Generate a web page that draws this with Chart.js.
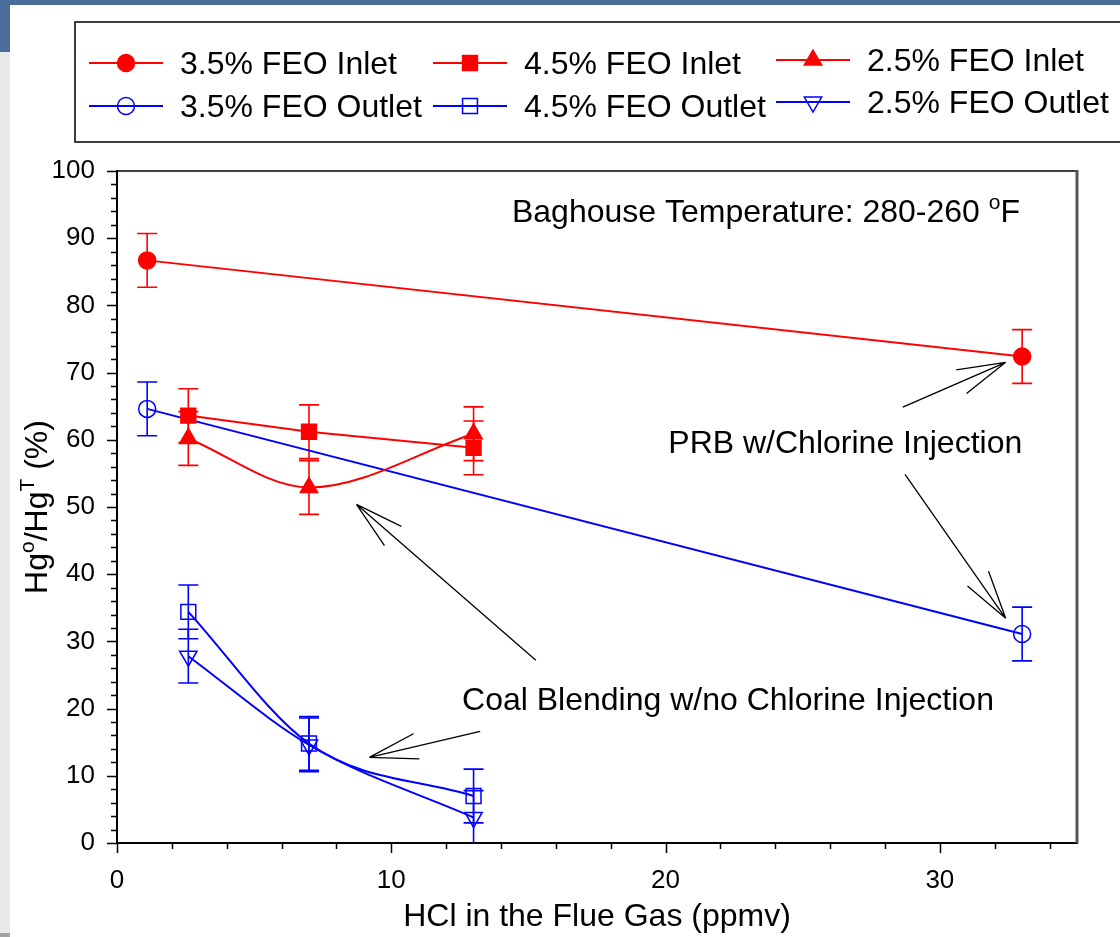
<!DOCTYPE html>
<html>
<head>
<meta charset="utf-8">
<script src="https://cdn.jsdelivr.net/npm/chart.js@4.4.0/dist/chart.umd.min.js"></script>
<style>
  html, body { margin: 0; padding: 0; background: #fff; }
  #quadro { position: relative; width: 1120px; height: 937px; overflow: hidden; background: #fff; }
  #faixaTopo { position: absolute; left: 0; top: 0; width: 1120px; height: 5px; background: #4b6d9b; }
  #faixaCanto { position: absolute; left: 0; top: 0; width: 10px; height: 52px; background: #4b6d9b; }
  #faixaEsq { position: absolute; left: 0; top: 52px; width: 10px; height: 881px; background: #e9e9e9; }
  #faixaBase { position: absolute; left: 0; top: 933px; width: 10px; height: 4px; background: #a3a3a3; }
  canvas { position: absolute; left: 0; top: 0; }
</style>
</head>
<body>
<div id="quadro">
  <div id="faixaTopo"></div>
  <div id="faixaCanto"></div>
  <div id="faixaEsq"></div>
  <div id="faixaBase"></div>
  <canvas id="graficoHg" width="1120" height="937"></canvas>
</div>
<script>
// dados
const hcl35 = [1.1, 33];
const inlet35 = [86.7, 72.4];
const outlet35 = [64.6, 31.1];
const erro35 = [4, 4];

const hcl45 = [2.6, 7, 13];
const inlet45 = [63.6, 61.2, 58.8];
const outlet45 = [34.4, 14.8, 7.0];
const erro45 = [4, 4, 4];

const hcl25 = [2.6, 7, 13];
const inlet25 = [60.2, 52.9, 60.9];
const outlet25 = [27.8, 14.6, 3.8];
const erro25 = [4, 4, 4];

const ticksX = [0, 10, 20, 30];
const ticksY = [0, 10, 20, 30, 40, 50, 60, 70, 80, 90, 100];

const FONTE = '"Liberation Sans", Arial, sans-serif';
const VERMELHO = '#ff0000';
const AZUL = '#0000ff';

const pontos = (xs, ys) => xs.map((x, i) => ({ x: x, y: ys[i] }));

function serie(label, xs, ys, erro, cor, estilo, cheio, curva, raio, rot) {
  return {
    label: label,
    data: pontos(xs, ys),
    erro: erro,
    borderColor: cor,
    backgroundColor: cheio ? cor : 'rgba(0,0,0,0)',
    pointBackgroundColor: cheio ? cor : 'rgba(0,0,0,0)',
    pointBorderColor: cor,
    pointBorderWidth: 1.5,
    pointStyle: estilo,
    pointRadius: raio,
    pointHoverRadius: raio,
    pointRotation: rot || 0,
    borderWidth: 2,
    tension: curva ? 0.4 : 0,
    cubicInterpolationMode: curva ? 'monotone' : 'default',
    showLine: true,
    fill: false
  };
}

const datasets = [
  serie('3.5% FEO Inlet', hcl35, inlet35, erro35, VERMELHO, 'circle', true, false, 8.5),
  serie('4.5% FEO Inlet', hcl45, inlet45, erro45, VERMELHO, 'rect', true, false, 10.5),
  serie('2.5% FEO Inlet', hcl25, inlet25, erro25, VERMELHO, 'triangle', true, true, 10),
  serie('3.5% FEO Outlet', hcl35, outlet35, erro35, AZUL, 'circle', false, false, 8.5),
  serie('4.5% FEO Outlet', hcl45, outlet45, erro45, AZUL, 'rect', false, true, 10.5),
  serie('2.5% FEO Outlet', hcl25, outlet25, erro25, AZUL, 'triangle', false, true, 10, 180)
];

// barras de erro
const barrasErro = {
  id: 'barrasErro',
  beforeDatasetsDraw(chart) {
    const { ctx, chartArea: a, scales: { x, y } } = chart;
    ctx.save();
    ctx.beginPath();
    ctx.rect(a.left, a.top, a.right - a.left, a.bottom - a.top);
    ctx.clip();
    chart.data.datasets.forEach(ds => {
      if (!ds.erro) return;
      ctx.strokeStyle = ds.borderColor;
      ctx.lineWidth = 1.6;
      ds.data.forEach((p, i) => {
        const px = x.getPixelForValue(p.x);
        const cima = y.getPixelForValue(p.y + ds.erro[i]);
        const baixo = y.getPixelForValue(p.y - ds.erro[i]);
        ctx.beginPath();
        ctx.moveTo(px, cima); ctx.lineTo(px, baixo);
        ctx.moveTo(px - 10, cima); ctx.lineTo(px + 10, cima);
        ctx.moveTo(px - 10, baixo); ctx.lineTo(px + 10, baixo);
        ctx.stroke();
      });
    });
    ctx.restore();
  }
};

function textoSobrescrito(ctx, partes, x, y, tam) {
  let cx = x;
  partes.forEach(([t, sup]) => {
    ctx.font = (sup ? Math.round(tam * 0.66) : tam) + 'px ' + FONTE;
    ctx.fillText(t, cx, sup ? y - tam * 0.42 : y);
    cx += ctx.measureText(t).width;
  });
  return cx - x;
}

function larguraPartes(ctx, partes, tam) {
  let w = 0;
  partes.forEach(([t, sup]) => {
    ctx.font = (sup ? Math.round(tam * 0.66) : tam) + 'px ' + FONTE;
    w += ctx.measureText(t).width;
  });
  return w;
}

// anotacoes em coordenadas do grafico
const notas = [
  { partes: [['Baghouse Temperature: 280-260 ', false], ['o', true], ['F', false]], x: 14.4, y: 92.4 },
  { partes: [['PRB w/Chlorine Injection', false]], x: 20.1, y: 58.1 },
  { partes: [['Coal Blending w/no Chlorine Injection', false]], x: 12.58, y: 19.75 }
];
const setas = [
  { de: [28.65, 64.85], para: [32.4, 71.53] },
  { de: [28.73, 54.87], para: [32.4, 33.44] },
  { de: [15.27, 27.19], para: [8.73, 50.4] },
  { de: [13.24, 16.62], para: [9.2, 12.75] }
];

const extras = {
  id: 'extras',
  afterDraw(chart) {
    const { ctx, chartArea: a, scales: { x, y } } = chart;
    ctx.save();

    // marcas dos eixos (maiores e menores)
    ctx.strokeStyle = '#000';
    ctx.lineWidth = 1.5;
    ctx.beginPath();
    for (let v = 0; v <= 100; v += 2) {
      const py = Math.round(y.getPixelForValue(v)) + 0.5;
      const len = v % 10 === 0 ? 10 : 6;
      ctx.moveTo(a.left - len, py); ctx.lineTo(a.left, py);
    }
    for (let v = 0; v <= 34; v += 2) {
      const px = Math.round(x.getPixelForValue(v)) + 0.5;
      const len = v % 10 === 0 ? 10 : 6;
      ctx.moveTo(px, a.bottom); ctx.lineTo(px, a.bottom + len);
    }
    ctx.stroke();

    // moldura superior e direita
    ctx.beginPath();
    ctx.moveTo(a.left, a.top); ctx.lineTo(a.right, a.top);
    ctx.stroke();
    ctx.strokeStyle = '#555';
    ctx.lineWidth = 3;
    ctx.beginPath();
    ctx.moveTo(a.right, a.top - 1); ctx.lineTo(a.right, a.bottom);
    ctx.stroke();

    // titulo do eixo y
    ctx.fillStyle = '#000';
    ctx.textBaseline = 'alphabetic';
    const partesY = [['Hg', false], ['o', true], ['/Hg', false], ['T', true], [' (%)', false]];
    const wy = larguraPartes(ctx, partesY, 32);
    ctx.save();
    ctx.translate(47, (a.top + a.bottom) / 2);
    ctx.rotate(-Math.PI / 2);
    textoSobrescrito(ctx, partesY, -wy / 2, 0, 32);
    ctx.restore();

    // textos
    notas.forEach(n => {
      textoSobrescrito(ctx, n.partes, x.getPixelForValue(n.x), y.getPixelForValue(n.y), 32);
    });

    // setas
    ctx.strokeStyle = '#000';
    ctx.lineWidth = 1.3;
    setas.forEach(s => {
      const x0 = x.getPixelForValue(s.de[0]), y0 = y.getPixelForValue(s.de[1]);
      const x1 = x.getPixelForValue(s.para[0]), y1 = y.getPixelForValue(s.para[1]);
      const ang = Math.atan2(y0 - y1, x0 - x1);
      ctx.beginPath();
      ctx.moveTo(x0, y0); ctx.lineTo(x1, y1);
      [-0.26, 0.26].forEach(d => {
        ctx.moveTo(x1, y1);
        ctx.lineTo(x1 + 50 * Math.cos(ang + d), y1 + 50 * Math.sin(ang + d));
      });
      ctx.stroke();
    });

    // legenda
    ctx.strokeStyle = '#000';
    ctx.lineWidth = 1.5;
    ctx.strokeRect(75, 22, 1100, 120);
    const colunas = [
      { x: 89, idx: [0, 3], ys: [63, 106] },
      { x: 433, idx: [1, 4], ys: [63, 106] },
      { x: 776, idx: [2, 5], ys: [60, 102] }
    ];
    ctx.font = '32px ' + FONTE;
    ctx.textBaseline = 'middle';
    colunas.forEach(c => {
      c.idx.forEach((di, k) => {
        const ds = chart.data.datasets[di];
        const ly = c.ys[k];
        ctx.strokeStyle = ds.borderColor;
        ctx.lineWidth = 2;
        ctx.beginPath();
        ctx.moveTo(c.x, ly); ctx.lineTo(c.x + 74, ly);
        ctx.stroke();
        ctx.fillStyle = ds.pointBackgroundColor;
        ctx.lineWidth = ds.pointBorderWidth;
        Chart.helpers.drawPoint(ctx, {
          pointStyle: ds.pointStyle,
          radius: ds.pointRadius,
          rotation: ds.pointRotation,
          borderWidth: ds.pointBorderWidth
        }, c.x + 37, ly);
        ctx.fillStyle = '#000';
        ctx.font = '32px ' + FONTE;
        ctx.fillText(ds.label, c.x + 91, ly + 2);
      });
    });

    ctx.restore();
  }
};

Chart.defaults.font.family = FONTE;
Chart.defaults.color = '#000';

new Chart(document.getElementById('graficoHg'), {
  type: 'scatter',
  data: { datasets: datasets },
  options: {
    responsive: false,
    animation: false,
    layout: { padding: { top: 171, right: 43, left: 0, bottom: 0 } },
    plugins: {
      legend: { display: false },
      tooltip: { enabled: false }
    },
    scales: {
      x: {
        type: 'linear',
        min: 0,
        max: 35,
        afterFit: s => { s.height = 94; },
        afterBuildTicks: s => { s.ticks = ticksX.map(v => ({ value: v })); },
        ticks: { font: { size: 26 }, color: '#000', padding: 22, maxRotation: 0 },
        grid: { display: false, drawTicks: false },
        border: { display: true, color: '#000', width: 2 },
        title: { display: true, text: 'HCl in the Flue Gas (ppmv)', font: { size: 32 }, color: '#000', padding: { top: 0, bottom: 1 } }
      },
      y: {
        type: 'linear',
        min: 0,
        max: 100,
        afterFit: s => { s.width = 117; },
        afterBuildTicks: s => { s.ticks = ticksY.map(v => ({ value: v })); },
        ticks: { font: { size: 26 }, color: '#000', padding: 22 },
        grid: { display: false, drawTicks: false },
        border: { display: true, color: '#000', width: 2 }
      }
    }
  },
  plugins: [barrasErro, extras]
});
</script>
</body>
</html>
